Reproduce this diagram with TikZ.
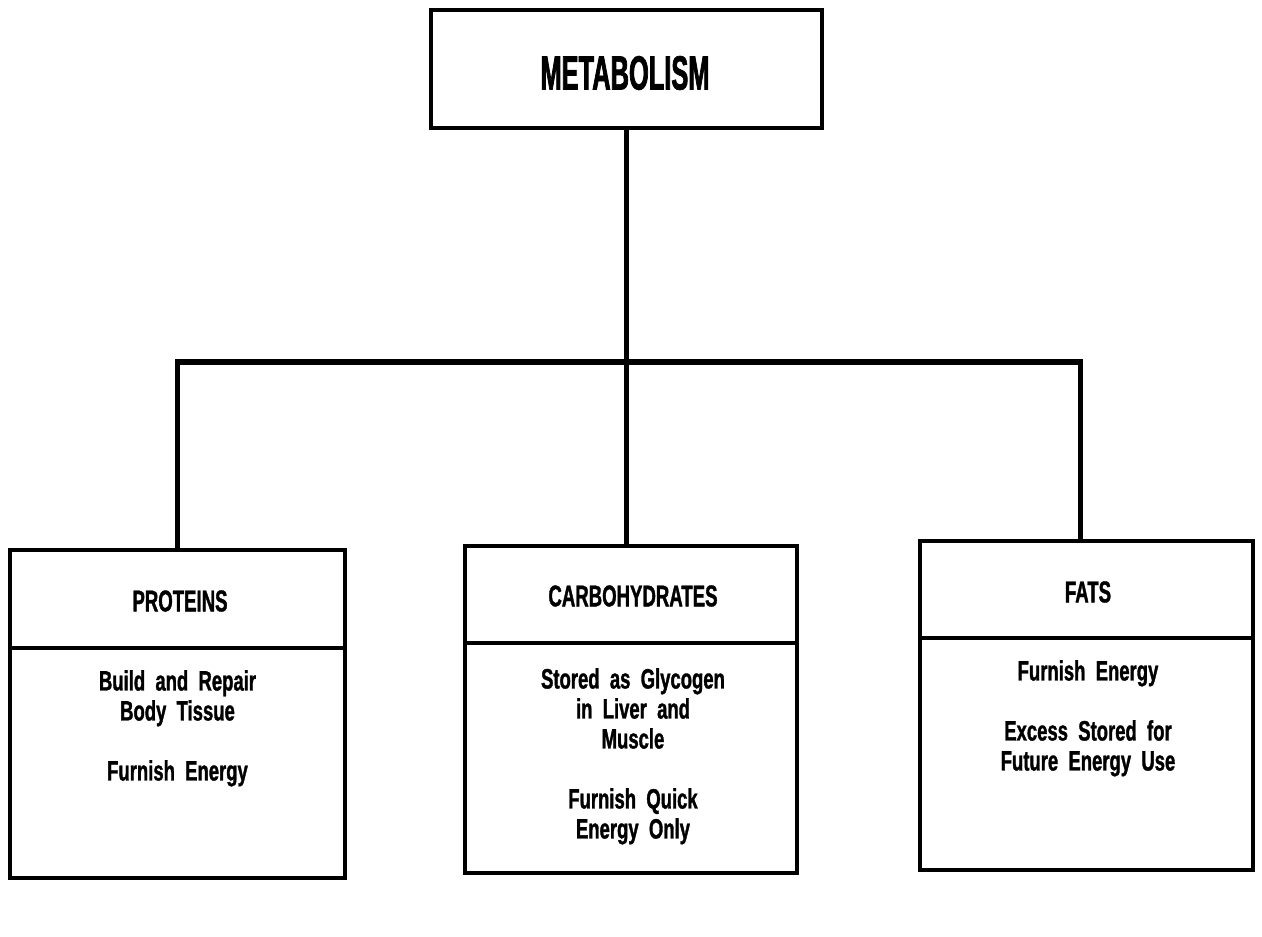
\documentclass[tikz,border=0pt]{standalone}
\usepackage{fontspec}
\setmainfont{Liberation Sans}
\newfontfamily\bigfont[FakeStretch=0.53,FakeBold=1.5]{Liberation Sans}
\newfontfamily\hdfont[FakeStretch=0.62,FakeBold=1.2]{Liberation Sans}
\newfontfamily\bodyfont[FakeStretch=0.66,FakeBold=1.2,WordSpace=2.0]{Liberation Sans}
\begin{document}
\begin{tikzpicture}[x=1pt,y=-1pt,
  box/.style={draw, line width=4.5pt, inner sep=0pt, outer sep=0pt, rectangle},
  conn/.style={line width=5.5pt},
  divline/.style={line width=4.5pt},
  bigtxt/.style={font=\bigfont\bfseries\fontsize{48}{50}\selectfont, inner sep=0pt},
  hdtxt/.style={font=\hdfont\bfseries\fontsize{30}{32}\selectfont, inner sep=0pt},
  bodytxt/.style={font=\bodyfont\bfseries\fontsize{28}{30}\selectfont, inner sep=0pt, align=center, anchor=north}]
\useasboundingbox (0,0) rectangle (1262,937);
% boxes
\node[box, minimum width=391pt, minimum height=118pt] (meta) at (626.5,69) {};
\node[box, minimum width=335pt, minimum height=328pt] (prot) at (177.5,714) {};
\node[box, minimum width=332pt, minimum height=327pt] (carb) at (631,709.5) {};
\node[box, minimum width=333pt, minimum height=329pt] (fats) at (1086.5,705.5) {};
% dividers
\draw[divline] (prot.west |- 0,648) -- (prot.east |- 0,648);
\draw[divline] (carb.west |- 0,643) -- (carb.east |- 0,643);
\draw[divline] (fats.west |- 0,638) -- (fats.east |- 0,638);
% texts
\node[bigtxt] (tmeta) at (625,73) {METABOLISM};
\node[hdtxt] (tprot) at (180,601) {PROTEINS};
\node[hdtxt] (tcarb) at (633,596) {CARBOHYDRATES};
\node[hdtxt] (tfats) at (1088,592) {FATS};
\node[bodytxt] (bprot) at (177.5,670) {Build and Repair\\Body Tissue\\[30pt]Furnish Energy};
\node[bodytxt] (bcarb) at (633,668) {Stored as Glycogen\\in Liver and\\Muscle\\[30pt]Furnish Quick\\Energy Only};
\node[bodytxt] (bfats) at (1088,660) {Furnish Energy\\[30pt]Excess Stored for\\Future Energy Use};
% connectors
\coordinate (bus) at (626.5,362);
\draw[conn] (meta.south) -- (meta.south |- carb.north);
\draw[conn] (prot.north) |- (bus);
\draw[conn] (bus) -| ([xshift=-6pt]fats.north);
\end{tikzpicture}
\end{document}
